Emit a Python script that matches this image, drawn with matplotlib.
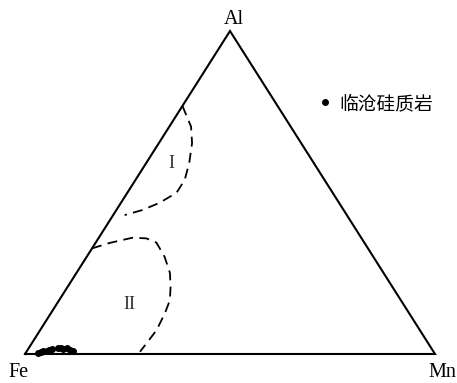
import matplotlib.pyplot as plt
import numpy as np

# ternary data in percent (Fe, Al, Mn) - 临沧硅质岩 samples
al = [0.3, 0.6, 0.9, 1.0, 1.3, 1.6, 1.9, 1.8, 1.5, 1.8, 1.2, 0.9]
mn = [3.1, 3.6, 4.0, 4.9, 5.2, 5.9, 7.0, 7.8, 8.6, 9.3, 10.3, 11.2]
fe = [100 - a - m for a, m in zip(al, mn)]

# field boundaries (Al %, Mn %)
field1_al = [76.8, 70.4, 65.3, 59.1, 53.9, 49.9, 46.8, 44.6, 43.0]
field1_mn = [0.0, 5.3, 8.1, 10.5, 12.0, 12.0, 9.4, 6.4, 2.8]
field2_al = [32.7, 34.4, 36.0, 35.8, 34.5, 30.1, 25.1, 20.8, 16.7, 12.7, 7.4, 3.4, 0.7]
field2_mn = [0.0, 3.5, 8.2, 11.7, 14.8, 19.0, 22.8, 25.1, 27.0, 27.8, 28.4, 28.0, 27.7]


def to_xy(a, m):
    a = np.asarray(a) / 100.0
    m = np.asarray(m) / 100.0
    return m + a * 0.5, a


fig = plt.figure(figsize=(4.57, 3.83), dpi=100)
ax = fig.add_axes([0, 0, 1, 1])
ax.set_xlim(-25 / 410, 432 / 410)
ax.set_ylim(-29 / 323, 1 + 31 / 323)
ax.axis('off')

# triangle frame
tx, ty = to_xy([0, 0, 100, 0], [0, 100, 0, 0])
ax.plot(tx, ty, color='black', lw=1.5, solid_joinstyle='miter')

# field boundaries
for fa, fm in [(field1_al, field1_mn), (field2_al, field2_mn)]:
    x, y = to_xy(fa, fm)
    ax.plot(x, y, color='black', lw=1.3, ls=(0, (5.5, 3.5)))

# samples
px, py = to_xy(al, mn)
ax.plot(px, py, 'o', color='black', ms=4, ls='none', label='临沧硅质岩')

serif = 'Liberation Serif'
ax.text(0.51, 1.037, 'Al', ha='center', va='center', fontsize=14.5, family=serif)
ax.text(-0.015, -0.057, 'Fe', ha='center', va='center', fontsize=14.5, family=serif)
ax.text(1.018, -0.057, 'Mn', ha='center', va='center', fontsize=14.5, family=serif)

lx, ly = to_xy(59.0, 6.1)
ax.text(lx, ly, 'I', ha='center', va='center', fontsize=13, family=serif, color='#333333')
lx, ly = to_xy(15.2, 17.8)
ax.text(lx, ly, 'II', ha='center', va='center', fontsize=13, family=serif, color='#333333')

leg = ax.legend(loc='center left', bbox_to_anchor=(0.678, 0.73), frameon=False,
                handlelength=0.8, handletextpad=0.4, borderaxespad=0,
                prop={'family': ['Noto Sans CJK SC', 'DejaVu Sans'], 'size': 13.5})

fig.savefig('out.png', dpi=100)
plt.close(fig)
